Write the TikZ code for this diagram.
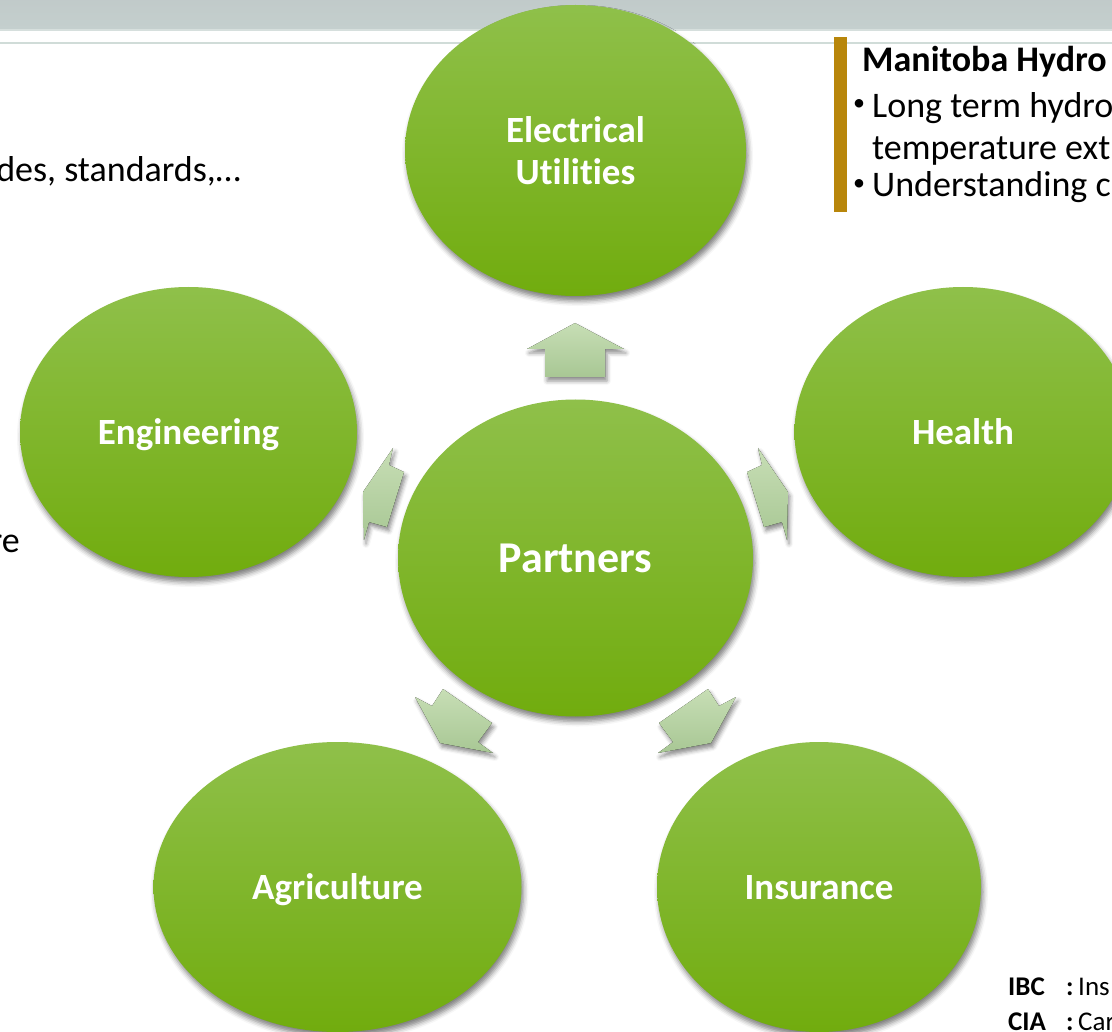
\documentclass[tikz,border=0pt]{standalone}
\usepackage{fontspec}
\setmainfont{Carlito}[Ligatures=NoCommon]
\usetikzlibrary{shapes.geometric,shadows.blur}

\definecolor{leiste}{RGB}{196,207,206}
\definecolor{leistehell}{RGB}{214,223,221}
\definecolor{linie}{RGB}{208,220,216}
\definecolor{gruenoben}{RGB}{143,192,74}
\definecolor{gruenunten}{RGB}{113,172,14}
\definecolor{pfeiloben}{RGB}{199,222,181}
\definecolor{pfeilunten}{RGB}{168,199,148}
\definecolor{goldbalken}{RGB}{184,134,11}

\tikzset{
    schatten/.style={blur shadow={shadow xshift=2pt, shadow yshift=-5pt,
        shadow blur radius=5pt, shadow opacity=50}},
    kreis/.style={ellipse, inner sep=0pt, text depth=0pt, schatten,
        top color=gruenoben, bottom color=gruenunten,
        text=white, align=center, font=\fontsize{37}{42}\selectfont\bfseries},
    pfeil/.style={top color=pfeiloben, bottom color=pfeilunten,
        blur shadow={shadow xshift=2pt, shadow yshift=-4pt,
        shadow blur radius=4pt, shadow opacity=45}},
    fliess/.style={inner sep=0pt, anchor=base west, font=\fontsize{36}{40}\selectfont},
    punkt/.style={inner sep=0pt, font=\fontsize{24}{26}\selectfont},
    klein/.style={inner sep=0pt, anchor=base west, font=\fontsize{27}{30}\selectfont},
    kleinfett/.style={klein, font=\fontsize{27}{30}\selectfont\bfseries},
}

\begin{document}
\begin{tikzpicture}[x=1pt, y=-1pt]
    \path[use as bounding box, clip] (0,0) rectangle (1112,1032);

    % Kopfleiste
    \fill[top color=leiste!95!black!90, bottom color=leiste] (0,0) rectangle (1112,29);
    \fill[leistehell] (0,29) rectangle (1112,31.5);
    \fill[linie] (0,41.7) rectangle (1112,44.3);

    % Text links
    \node[fliess, anchor=base east] (codes) at (241,182) {des, standards,…};
    \node[fliess, anchor=base east] (rest) at (20,552) {re};

    % Pfeile
    \fill[pfeil] (527,349) -- (545,349) -- (545,377) -- (605,377)
        -- (605,349) -- (624,349) -- (575,323) -- cycle;
    \fill[pfeil] (393,448) -- (389,465) -- (404,472) -- (387,527)
        -- (369,522) -- (364,540) -- (363,492) -- cycle;
    \fill[pfeil] (758,448) -- (762,465) -- (747,472) -- (764,527)
        -- (782,522) -- (787,540) -- (788,492) -- cycle;
    \fill[pfeil] (415,697) -- (432,706) -- (443,689) -- (492,723)
        -- (478,742) -- (493,753) -- (440,743) -- cycle;
    \fill[pfeil] (736,697) -- (719,706) -- (708,689) -- (659,723)
        -- (673,742) -- (658,753) -- (711,743) -- cycle;

    % Kreise
    \node[kreis, minimum width=341, minimum height=291] (strom) at (575.5,150.5) {Electrical\\Utilities};
    \node[kreis, minimum width=337, minimum height=290] (technik) at (188.5,432) {Engineering};
    \node[kreis, minimum width=337, minimum height=290] (gesundheit) at (963,432) {Health};
    \node[kreis, minimum width=355, minimum height=317,
        font=\fontsize{44}{48}\selectfont\bfseries] (partner) at (575.5,558) {Partners};
    \node[kreis, minimum width=368, minimum height=290] (landwirtschaft) at (337.5,887) {Agriculture};
    \node[kreis, minimum width=324, minimum height=290] (versicherung) at (819,887) {Insurance};

    % Textfeld rechts
    \fill[goldbalken] (834,37) rectangle (847,212);
    \node[fliess, font=\fontsize{36}{40}\selectfont\bfseries] (hydro) at (862,72) {Manitoba Hydro};
    \node[punkt] (punkta) at (859,105) {•};
    \node[fliess] (zeilea) at (872,118) {Long term hydro};
    \node[fliess] (zeileb) at (872,160) {temperature ext};
    \node[punkt] (punktb) at (859,185) {•};
    \node[fliess] (zeilec) at (872,197) {Understanding c};

    % Abkuerzungen
    \node[kleinfett] (ibc) at (1008,995) {IBC};
    \node[kleinfett] (ibcdp) at (1066,995) {:};
    \node[klein] (ibctext) at (1078,995) {Ins};
    \node[kleinfett] (cia) at (1008,1030) {CIA};
    \node[kleinfett] (ciadp) at (1066,1030) {:};
    \node[klein] (ciatext) at (1078,1030) {Car};
\end{tikzpicture}
\end{document}
